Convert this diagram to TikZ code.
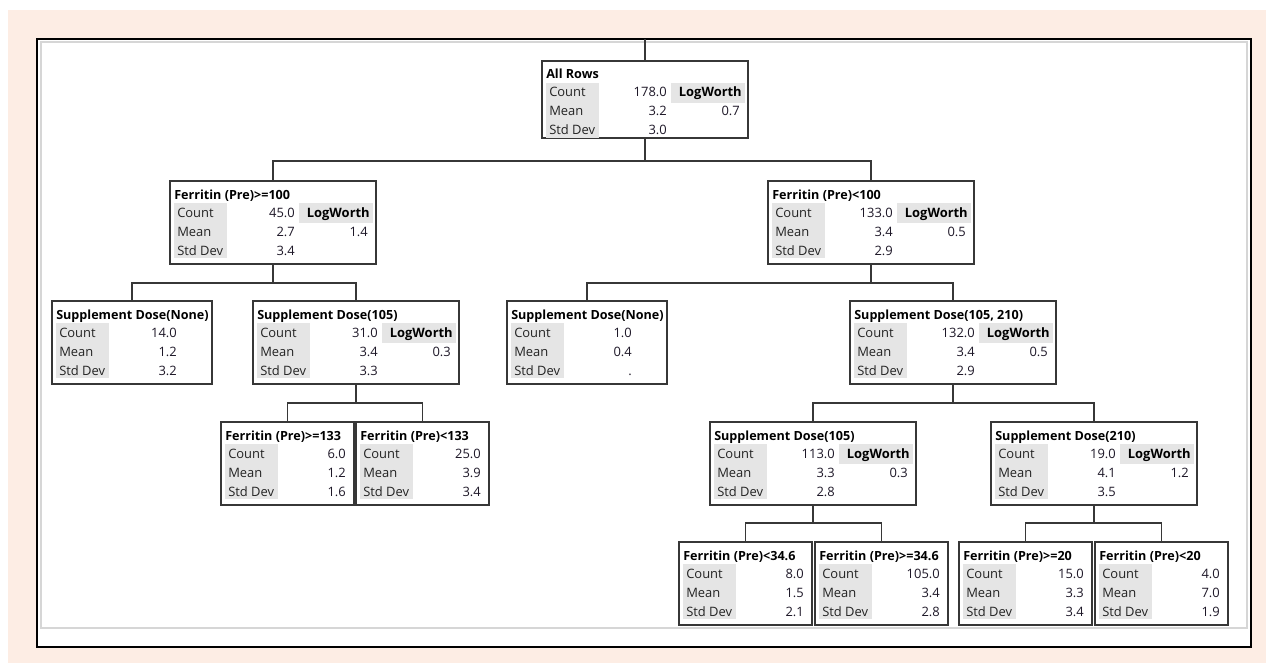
\documentclass[tikz,border=0pt]{standalone}
\usepackage{fontspec}
\setmainfont{Open Sans}
\usetikzlibrary{positioning}
\definecolor{peach}{RGB}{253,237,228}
\definecolor{cellgray}{RGB}{229,229,229}
\definecolor{boxline}{RGB}{55,55,55}
\definecolor{labtext}{RGB}{35,35,35}
\definecolor{valtext}{RGB}{30,24,40}
\definecolor{framegray}{RGB}{214,214,214}
\tikzset{
    box/.style = {rectangle, draw=boxline, line width=1.15pt, fill=white, inner sep=0pt, outer sep=0pt, anchor=north west, minimum height=83*0.75pt},
    wide/.style = {minimum width=206*0.75pt},
    mid/.style = {minimum width=160*0.75pt},
    narrow/.style = {minimum width=133*0.75pt},
    shade/.style = {rectangle, fill=cellgray, inner sep=0pt, outer sep=0pt, anchor=north west},
    ttl/.style = {anchor=base west, inner sep=0pt, font=\fontsize{9.45}{11.5}\selectfont\bfseries, text=black},
    lwhead/.style = {anchor=base east, inner sep=0pt, font=\bfseries, text=black},
    lab/.style = {anchor=base west, inner sep=0pt, text=labtext},
    val/.style = {anchor=base east, inner sep=0pt, text=valtext},
    link/.style = {draw=boxline, line width=1.15pt},
    every picture/.style={font issue=\fontsize{9.7}{11.5}},
    font issue/.style={execute at begin picture={#1\selectfont}
  }
}
% one split box: name, left, top, size, title, count, mean, std dev
\newcommand{\statbox}[8]{%
  \node[box,#4] (#1) at (#2,#3) {};
  \node[shade, minimum width=53*0.75pt, minimum height=55*0.75pt] (#1-s) at ([shift={(4,22)}]#1.north west) {};
  \node[ttl] (#1-t) at ([shift={(4,18)}]#1.north west) {#5};
  \node[lab] (#1-c) at ([shift={(7,36)}]#1.north west) {Count};
  \node[lab] (#1-m) at ([shift={(7,55)}]#1.north west) {Mean};
  \node[lab] (#1-d) at ([shift={(7,74)}]#1.north west) {Std Dev};
  \node[val] (#1-cv) at ([shift={(125,36)}]#1.north west) {#6};
  \node[val] (#1-mv) at ([shift={(125,55)}]#1.north west) {#7};
  \node[val] (#1-dv) at ([shift={(125,74)}]#1.north west) {#8};
}
\newcommand{\logworth}[2]{%
  \node[shade, minimum width=74*0.75pt, minimum height=20*0.75pt] (#1-ls) at ([shift={(129,22)}]#1.north west) {};
  \node[lwhead] (#1-lh) at ([shift={(200,36)}]#1.north west) {LogWorth};
  \node[val] (#1-lv) at ([shift={(198,55)}]#1.north west) {#2};
}

\begin{document}
\begin{tikzpicture}[x=0.75pt,y=-0.75pt]
\useasboundingbox (0,0) rectangle (1266,663);
\fill[peach] (8,10) rectangle (1266,663);
\fill[white] (37,39) rectangle (1251,647);
\draw[framegray, line width=0.8pt] (41,42) rectangle (1247,628);
\draw[black, line width=1.9pt] (37,39) rectangle (1251,647);
%
\statbox{root}{542}{61}{wide, minimum height=77*0.75pt}{All Rows}{178.0}{3.2}{3.0}
\logworth{root}{0.7}
\statbox{fa}{170}{181}{wide}{Ferritin (Pre)>=100}{45.0}{2.7}{3.4}
\logworth{fa}{1.4}
\statbox{fb}{768}{181}{wide}{Ferritin (Pre)<100}{133.0}{3.4}{2.9}
\logworth{fb}{0.5}
\statbox{sa}{52}{301}{mid}{Supplement Dose(None)}{14.0}{1.2}{3.2}
\statbox{sb}{253}{301}{wide}{Supplement Dose(105)}{31.0}{3.4}{3.3}
\logworth{sb}{0.3}
\statbox{sc}{507}{301}{mid}{Supplement Dose(None)}{1.0}{0.4}{.}
\statbox{sd}{850}{301}{wide}{Supplement Dose(105, 210)}{132.0}{3.4}{2.9}
\logworth{sd}{0.5}
\statbox{ga}{221}{422}{narrow}{Ferritin (Pre)>=133}{6.0}{1.2}{1.6}
\statbox{gb}{356}{422}{narrow}{Ferritin (Pre)<133}{25.0}{3.9}{3.4}
\statbox{se}{710}{422}{wide}{Supplement Dose(105)}{113.0}{3.3}{2.8}
\logworth{se}{0.3}
\statbox{sf}{991}{422}{wide}{Supplement Dose(210)}{19.0}{4.1}{3.5}
\logworth{sf}{1.2}
\statbox{ha}{679}{542}{narrow}{Ferritin (Pre)<34.6}{8.0}{1.5}{2.1}
\statbox{hb}{815}{542}{narrow}{Ferritin (Pre)>=34.6}{105.0}{3.4}{2.8}
\statbox{hc}{959}{542}{narrow}{Ferritin (Pre)>=20}{15.0}{3.3}{3.4}
\statbox{hd}{1095}{542}{narrow}{Ferritin (Pre)<20}{4.0}{7.0}{1.9}
%
\coordinate[above=16.5pt of root.north] (feed);
\coordinate[below=17.25pt of root.south] (root-j);
\coordinate[below=14.25pt of fa.south] (fa-j);
\coordinate[below=14.25pt of fb.south] (fb-j);
\coordinate[below=14.25pt of sb.south] (sb-j);
\coordinate[below=14.25pt of sd.south] (sd-j);
\coordinate[below=13.5pt of se.south] (se-j);
\coordinate[below=13.5pt of sf.south] (sf-j);
%
\draw[link] (feed) -- (root.north);
\draw[link] (root.south) -- (root-j);
\draw[link] (fa.north) |- (root-j) -| (fb.north);
\draw[link] (fa.south) -- (fa-j);
\draw[link] (sa.north) |- (fa-j) -| (sb.north);
\draw[link] (fb.south) -- (fb-j);
\draw[link] (sc.north) |- (fb-j) -| (sd.north);
\draw[link] (sb.south) -- (sb-j);
\draw[link] (ga.north) |- (sb-j) -| (gb.north);
\draw[link] (sd.south) -- (sd-j);
\draw[link] (se.north) |- (sd-j) -| (sf.north);
\draw[link] (se.south) -- (se-j);
\draw[link] (ha.north) |- (se-j) -| (hb.north);
\draw[link] (sf.south) -- (sf-j);
\draw[link] (hc.north) |- (sf-j) -| (hd.north);
\end{tikzpicture}
\end{document}
